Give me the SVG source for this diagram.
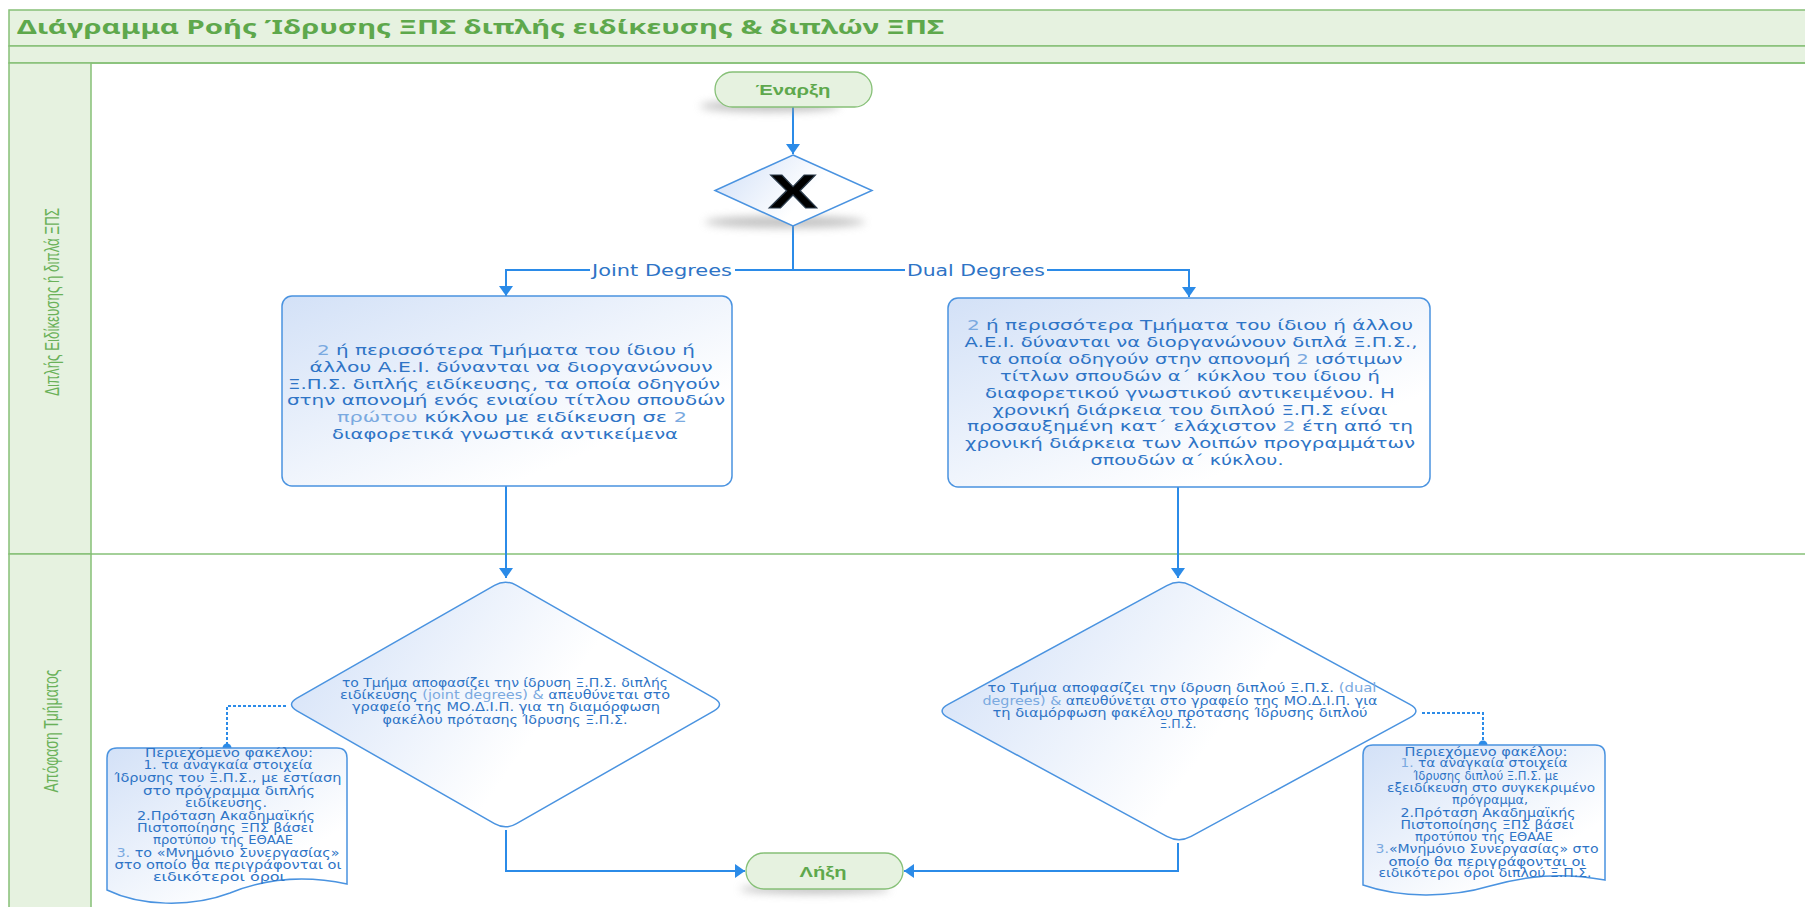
<svg xmlns="http://www.w3.org/2000/svg" width="1805" height="907" viewBox="0 0 1805 907">
<style>
.lane{fill:#e6f2e0;stroke:#86c077;stroke-width:1.5}
.line{stroke:#86c077;stroke-width:1.5;fill:none}
.title{font-family:"Noto Sans","Liberation Sans",sans-serif;font-weight:bold;font-size:19px;fill:#5ea84c}
.lanet{font-family:"Liberation Sans",sans-serif;font-size:21px;fill:#6ab159}
.pill{fill:#e6f2e0;stroke:#86c077;stroke-width:1.3}
.pillt{font-family:"Liberation Sans",sans-serif;font-weight:bold;font-size:15px;fill:#5ea84c;text-anchor:middle}
.box{fill:url(#boxg);stroke:#4a93e0;stroke-width:1.5}
.dia{fill:url(#diag);stroke:#4a93e0;stroke-width:1.5}
.bt{font-family:"DejaVu Sans",sans-serif;font-size:14px;fill:#2e74c6;text-anchor:middle}
.st{font-family:"DejaVu Sans",sans-serif;font-size:11.5px;fill:#2e74c6;text-anchor:middle}
.lt{fill:#7aa9e0}
.conn{stroke:#2b8be8;stroke-width:2;fill:none}
.dot{stroke:#2b8be8;stroke-width:2;fill:none;stroke-dasharray:3 2}
.lbl{font-family:"DejaVu Sans",sans-serif;font-size:15px;fill:#2e74c6;text-anchor:middle}
</style>
<defs>
<linearGradient id="boxg" x1="0" y1="0" x2="1" y2="1">
<stop offset="0" stop-color="#d3e1f7"/>
<stop offset="0.75" stop-color="#ffffff"/>
<stop offset="1" stop-color="#ffffff"/>
</linearGradient>
<linearGradient id="diag" x1="0" y1="0.3" x2="1" y2="0.7">
<stop offset="0" stop-color="#d6e3f8"/>
<stop offset="0.6" stop-color="#ffffff"/>
<stop offset="1" stop-color="#ffffff"/>
</linearGradient>
<filter id="blur" x="-30%" y="-100%" width="160%" height="300%">
<feGaussianBlur stdDeviation="4"/>
</filter>
<marker id="arr" viewBox="0 0 10 14" refX="10" refY="7" markerWidth="10" markerHeight="14" markerUnits="userSpaceOnUse" orient="auto">
<path d="M0,0 L10,7 L0,14 Z" fill="#2b8be8"/>
</marker>
</defs>
<rect width="1805" height="907" fill="#ffffff"/>

<g id="pool">
<rect class="lane" x="9" y="10" width="1805" height="36"/>
<rect class="lane" x="9" y="46" width="1805" height="17"/>
<text class="title" x="17" y="34" textLength="927" lengthAdjust="spacingAndGlyphs">Διάγραμμα Ροής Ίδρυσης ΞΠΣ διπλής ειδίκευσης &amp; διπλών ΞΠΣ</text>
</g>
<g id="lane1">
<rect class="lane" x="9" y="63" width="82" height="491"/>
<line class="line" x1="91" y1="63" x2="1805" y2="63"/>
<text class="lanet" transform="translate(59,302) rotate(-90)" text-anchor="middle" textLength="188" lengthAdjust="spacingAndGlyphs">Διπλής Ειδίκευσης ή διπλά ΞΠΣ</text>
</g>
<g id="lane2">
<rect class="lane" x="9" y="554" width="82" height="360"/>
<line class="line" x1="91" y1="554" x2="1805" y2="554"/>
<text class="lanet" transform="translate(58,731) rotate(-90)" text-anchor="middle" textLength="123" lengthAdjust="spacingAndGlyphs">Απόφαση Τμήματος</text>
</g>

<g id="connectors">
<path class="conn" d="M793,107 V154" marker-end="url(#arr)"/>
<path class="conn" d="M793,226 V270 H506 V296" marker-end="url(#arr)"/>
<path class="conn" d="M793,270 H1189 V297" marker-end="url(#arr)"/>
<path class="conn" d="M506,486 V578" marker-end="url(#arr)"/>
<path class="conn" d="M1178,487 V578" marker-end="url(#arr)"/>
<path class="conn" d="M506,830 V871 H745" marker-end="url(#arr)"/>
<path class="conn" d="M1178,843 V871 H904" marker-end="url(#arr)"/>
<path class="dot" d="M286,706 H227 V748"/>
<circle cx="227" cy="748" r="4.5" fill="#2b8be8"/>
<path class="dot" d="M1422,713 H1483 V745"/>
<circle cx="1483" cy="745" r="4.5" fill="#2b8be8"/>
<rect x="590" y="261" width="145" height="18" fill="#ffffff"/>
<text class="lbl" x="662" y="276" textLength="140" lengthAdjust="spacingAndGlyphs">Joint Degrees</text>
<rect x="905" y="261" width="142" height="18" fill="#ffffff"/>
<text class="lbl" x="976" y="276" textLength="138" lengthAdjust="spacingAndGlyphs">Dual Degrees</text>
</g>

<g id="start">
<ellipse cx="770" cy="106" rx="70" ry="6" fill="#9a9a9a" opacity="0.6" filter="url(#blur)"/>
<rect class="pill" x="715" y="72" width="157" height="35" rx="17.5"/>
<text class="pillt" x="793" y="95" textLength="75" lengthAdjust="spacingAndGlyphs">Έναρξη</text>
</g>

<g id="gateway">
<ellipse cx="785" cy="222" rx="80" ry="6" fill="#9a9a9a" opacity="0.6" filter="url(#blur)"/>
<path class="dia" d="M793,155 L872,190.5 L793,226 L715,190.5 Z" stroke-width="1.3"/>
<text x="793" y="208" text-anchor="middle" font-family="Liberation Sans,sans-serif" font-weight="bold" font-size="48" fill="#000" stroke="#2a3a4a" stroke-width="1" textLength="49" lengthAdjust="spacingAndGlyphs">X</text>
</g>

<g id="joint">
<rect class="box" x="282" y="296" width="450" height="190" rx="10"/>
<text class="bt" x="506" y="355" textLength="378" lengthAdjust="spacingAndGlyphs"><tspan class="lt">2</tspan> ή περισσότερα Τμήματα του ίδιου ή</text>
<text class="bt" x="511" y="372" textLength="403" lengthAdjust="spacingAndGlyphs">άλλου Α.Ε.Ι. δύνανται να διοργανώνουν</text>
<text class="bt" x="504" y="389" textLength="432" lengthAdjust="spacingAndGlyphs">Ξ.Π.Σ. διπλής ειδίκευσης, τα οποία οδηγούν</text>
<text class="bt" x="506" y="405" textLength="438" lengthAdjust="spacingAndGlyphs">στην απονομή ενός ενιαίου τίτλου σπουδών</text>
<text class="bt" x="512" y="422" textLength="350" lengthAdjust="spacingAndGlyphs"><tspan class="lt">πρώτου</tspan> κύκλου με ειδίκευση σε <tspan class="lt">2</tspan></text>
<text class="bt" x="505" y="439" textLength="346" lengthAdjust="spacingAndGlyphs">διαφορετικά γνωστικά αντικείμενα</text>
</g>

<g id="dual">
<rect class="box" x="948" y="298" width="482" height="189" rx="10"/>
<text class="bt" x="1190" y="330" textLength="446" lengthAdjust="spacingAndGlyphs"><tspan class="lt">2</tspan> ή περισσότερα Τμήματα του ίδιου ή άλλου</text>
<text class="bt" x="1191" y="347" textLength="453" lengthAdjust="spacingAndGlyphs">Α.Ε.Ι. δύνανται να διοργανώνουν διπλά  Ξ.Π.Σ.,</text>
<text class="bt" x="1190" y="364" textLength="425" lengthAdjust="spacingAndGlyphs">τα οποία οδηγούν στην απονομή <tspan class="lt">2</tspan> ισότιμων</text>
<text class="bt" x="1190" y="381" textLength="380" lengthAdjust="spacingAndGlyphs">τίτλων σπουδών α΄ κύκλου του ίδιου ή</text>
<text class="bt" x="1190" y="398" textLength="410" lengthAdjust="spacingAndGlyphs">διαφορετικού γνωστικού αντικειμένου. Η</text>
<text class="bt" x="1190" y="415" textLength="395" lengthAdjust="spacingAndGlyphs">χρονική διάρκεια του διπλού Ξ.Π.Σ είναι</text>
<text class="bt" x="1190" y="431" textLength="446" lengthAdjust="spacingAndGlyphs">προσαυξημένη κατ΄ ελάχιστον <tspan class="lt">2</tspan> έτη από τη</text>
<text class="bt" x="1190" y="448" textLength="450" lengthAdjust="spacingAndGlyphs">χρονική διάρκεια των λοιπών προγραμμάτων</text>
<text class="bt" x="1187" y="465" textLength="193" lengthAdjust="spacingAndGlyphs">σπουδών α΄ κύκλου.</text>
</g>

<g id="decideJoint">
<path class="dia" d="M494.5,585.3 Q505.5,579 516.5,585.3 L714,698.2 Q725,704.5 714,710.8 L516.5,823.7 Q505.5,830 494.5,823.7 L297,710.8 Q286,704.5 297,698.2 Z"/>
<text class="st" x="505" y="687" textLength="326" lengthAdjust="spacingAndGlyphs">το Τμήμα αποφασίζει την ίδρυση Ξ.Π.Σ. διπλής</text>
<text class="st" x="505" y="699" textLength="330" lengthAdjust="spacingAndGlyphs">ειδίκευσης <tspan class="lt">(joint degrees) &amp;</tspan> απευθύνεται στο</text>
<text class="st" x="506" y="711" textLength="308" lengthAdjust="spacingAndGlyphs">γραφείο της ΜΟ.Δ.Ι.Π.  για τη διαμόρφωση</text>
<text class="st" x="505" y="724" textLength="245" lengthAdjust="spacingAndGlyphs">φακέλου πρότασης Ίδρυσης Ξ.Π.Σ.</text>
</g>

<g id="decideDual">
<path class="dia" d="M1166.85,585.6 Q1179,579 1191.15,585.6 L1409.85,704.4 Q1422,711 1409.85,717.6 L1191.15,836.4 Q1179,843 1166.85,836.4 L948.15,717.6 Q936,711 948.15,704.4 Z"/>
<text class="st" x="1182" y="692" textLength="389" lengthAdjust="spacingAndGlyphs">το Τμήμα αποφασίζει την ίδρυση διπλού Ξ.Π.Σ. <tspan class="lt">(dual</tspan></text>
<text class="st" x="1180" y="705" textLength="395" lengthAdjust="spacingAndGlyphs"><tspan class="lt">degrees) &amp;</tspan> απευθύνεται στο γραφείο της ΜΟ.Δ.Ι.Π. για</text>
<text class="st" x="1180" y="717" textLength="375" lengthAdjust="spacingAndGlyphs">τη διαμόρφωση φακέλου πρότασης Ίδρυσης διπλού</text>
<text class="st" x="1178" y="728" textLength="37" lengthAdjust="spacingAndGlyphs">Ξ.Π.Σ.</text>
</g>

<g id="docJoint">
<path class="box" d="M107,758 Q107,748 117,748 L337,748 Q347,748 347,758 L347,884 C300,874 262,880 230,893 C190,908 140,906 107,890 Z"/>
<text class="st" x="229" y="757" textLength="168" lengthAdjust="spacingAndGlyphs">Περιεχόμενο φακέλου:</text>
<text class="st" x="228" y="769" textLength="169" lengthAdjust="spacingAndGlyphs">1. τα αναγκαία στοιχεία</text>
<text class="st" x="228" y="782" textLength="227" lengthAdjust="spacingAndGlyphs">Ίδρυσης του Ξ.Π.Σ., με εστίαση</text>
<text class="st" x="229" y="795" textLength="172" lengthAdjust="spacingAndGlyphs">στο πρόγραμμα διπλής</text>
<text class="st" x="226" y="807" textLength="82" lengthAdjust="spacingAndGlyphs">ειδίκευσης.</text>
<text class="st" x="226" y="820" textLength="178" lengthAdjust="spacingAndGlyphs">2.Πρόταση Ακαδημαϊκής</text>
<text class="st" x="225" y="832" textLength="176" lengthAdjust="spacingAndGlyphs">Πιστοποίησης ΞΠΣ βάσει</text>
<text class="st" x="223" y="844" textLength="140" lengthAdjust="spacingAndGlyphs">προτύπου της ΕΘΑΑΕ</text>
<text class="st" x="228" y="857" textLength="223" lengthAdjust="spacingAndGlyphs"><tspan class="lt">3.</tspan> το «Μνημόνιο Συνεργασίας»</text>
<text class="st" x="228" y="869" textLength="227" lengthAdjust="spacingAndGlyphs">στο οποίο θα περιγράφονται οι</text>
<text class="st" x="219" y="881" textLength="132" lengthAdjust="spacingAndGlyphs">ειδικότεροι όροι</text>
</g>

<g id="docDual">
<path class="box" d="M1363,755 Q1363,745 1373,745 L1595,745 Q1605,745 1605,755 L1605,880 C1560,872 1525,876 1490,886 C1450,898 1400,898 1363,885 Z"/>
<text class="st" x="1486" y="756" textLength="163" lengthAdjust="spacingAndGlyphs">Περιεχόμενο φακέλου:</text>
<text class="st" x="1484" y="767" textLength="167" lengthAdjust="spacingAndGlyphs"><tspan class="lt">1.</tspan>  τα αναγκαία στοιχεία</text>
<text class="st" x="1486" y="780" textLength="145" lengthAdjust="spacingAndGlyphs">Ίδρυσης διπλού Ξ.Π.Σ. με</text>
<text class="st" x="1491" y="792" textLength="208" lengthAdjust="spacingAndGlyphs">εξειδίκευση στο συγκεκριμένο</text>
<text class="st" x="1490" y="804" textLength="76" lengthAdjust="spacingAndGlyphs">πρόγραμμα,</text>
<text class="st" x="1488" y="817" textLength="175" lengthAdjust="spacingAndGlyphs">2.Πρόταση Ακαδημαϊκής</text>
<text class="st" x="1487" y="829" textLength="173" lengthAdjust="spacingAndGlyphs">Πιστοποίησης ΞΠΣ βάσει</text>
<text class="st" x="1484" y="841" textLength="138" lengthAdjust="spacingAndGlyphs">προτύπου της ΕΘΑΑΕ</text>
<text class="st" x="1487" y="853" textLength="223" lengthAdjust="spacingAndGlyphs"><tspan class="lt">3.</tspan>«Μνημόνιο Συνεργασίας» στο</text>
<text class="st" x="1487" y="866" textLength="197" lengthAdjust="spacingAndGlyphs">οποίο θα περιγράφονται οι</text>
<text class="st" x="1485" y="877" textLength="213" lengthAdjust="spacingAndGlyphs">ειδικότεροι όροι διπλού Ξ.Π.Σ.</text>
</g>

<g id="end">
<ellipse cx="815" cy="889" rx="75" ry="5" fill="#9a9a9a" opacity="0.6" filter="url(#blur)"/>
<rect class="pill" x="746" y="853" width="157" height="36" rx="18"/>
<text class="pillt" x="823" y="877" textLength="47" lengthAdjust="spacingAndGlyphs">Λήξη</text>
</g>
</svg>
